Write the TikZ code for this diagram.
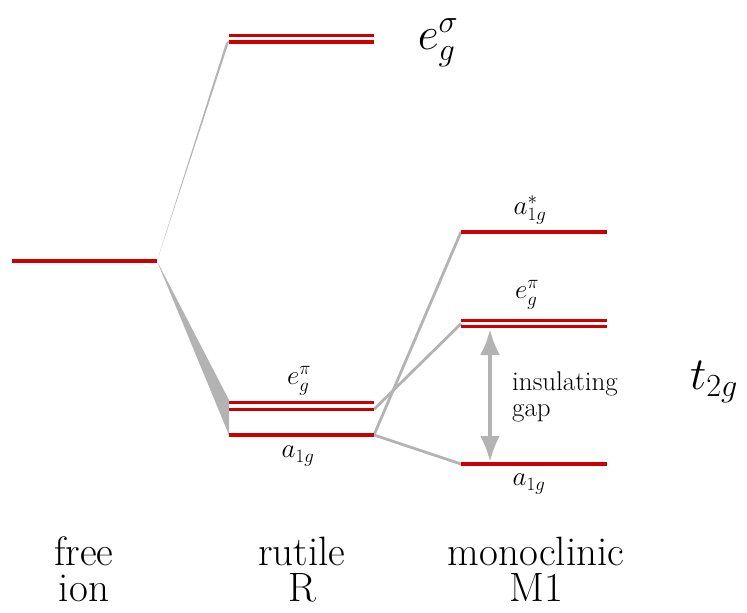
\RequirePackage{fix-cm}
\documentclass[tikz,border=0pt]{standalone}
\usetikzlibrary{arrows.meta}
\definecolor{lvlred}{HTML}{CC0000}
\definecolor{conngray}{HTML}{B3B3B3}
\begin{document}
\begin{tikzpicture}[x=1pt,y=-1pt,
  level/.style={draw=lvlred,line width=3.2pt},
  conn/.style={draw=conngray,line width=2.8pt},
  wedge/.style={fill=conngray},
  gaparrow/.style={draw=conngray,line width=4pt,{Latex[length=26pt,width=20pt]}-{Latex[length=26pt,width=20pt]}},
  big/.style={font=\fontsize{41}{36}\selectfont,align=center,anchor=north,inner sep=0pt},
  small/.style={font=\fontsize{27}{26}\selectfont,inner sep=0pt},
  huge/.style={font=\fontsize{#1}{#1}\selectfont,inner sep=0pt}]
\useasboundingbox (0,0) rectangle (747,613);

% level end points
\coordinate (freeL) at (12,261);   \coordinate (freeR) at (157,261);
\coordinate (esL1) at (229,35.5);  \coordinate (esR1) at (374,35.5);
\coordinate (esL2) at (229,42);    \coordinate (esR2) at (374,42);
\coordinate (rgpL1) at (229,402.7); \coordinate (rgpR1) at (374,402.7);
\coordinate (rgpL2) at (229,409.3); \coordinate (rgpR2) at (374,409.3);
\coordinate (raL) at (229,435);    \coordinate (raR) at (374,435);
\coordinate (masL) at (461,232);   \coordinate (masR) at (607,232);
\coordinate (mgpL1) at (461,320.7); \coordinate (mgpR1) at (607,320.7);
\coordinate (mgpL2) at (461,326.7); \coordinate (mgpR2) at (607,326.7);
\coordinate (mgpM) at (461,323.7);
\coordinate (maL) at (461,464);    \coordinate (maR) at (607,464);
\coordinate (wTopA) at (226,43);   \coordinate (wTopB) at (229.5,40);
\coordinate (wBotA) at (229,400);
\coordinate (gapT) at (490,329);   \coordinate (gapB) at (490,462);

% connectors
\fill[wedge] (freeR) -- (wTopA) -- (wTopB) -- cycle;
\fill[wedge] (freeR) -- (wBotA) -- (raL) -- cycle;
\draw[conn] (rgpR2) -- (mgpM);
\draw[conn] (raR) -- (masL);
\draw[conn] (raR) -- (maL);
\draw[gaparrow] (gapT) -- (gapB);

% levels
\draw[level] (freeL) -- (freeR);
\draw[level] (esL1) -- (esR1);
\draw[level] (esL2) -- (esR2);
\draw[level] (rgpL1) -- (rgpR1);
\draw[level] (rgpL2) -- (rgpR2);
\draw[level] (raL) -- (raR);
\draw[level] (masL) -- (masR);
\draw[level] (mgpL1) -- (mgpR1);
\draw[level] (mgpL2) -- (mgpR2);
\draw[level] (maL) -- (maR);

% labels
\node[huge=46] (leps) at (438,43) {$e_g^\sigma$};
\node[huge=46] (ltg) at (714,382) {$t_{2g}$};
\node[small] (lrgp) at (299,381) {$e_g^\pi$};
\node[small] (lra) at (298,456) {$a_{1g}$};
\node[small] (lmas) at (530,210) {$a_{1g}^*$};
\node[small] (lmgp) at (527,295) {$e_g^\pi$};
\node[small] (lma) at (529,484) {$a_{1g}$};
\node[small,align=left,anchor=north west] (lgap) at (512,372) {insulating\\gap};

\node[big] (lfree) at (84,537) {free\\ion};
\node[big] (lrut) at (302,537) {rutile\\R};
\node[big] (lmono) at (536,537) {monoclinic\\M1};
\end{tikzpicture}
\end{document}
